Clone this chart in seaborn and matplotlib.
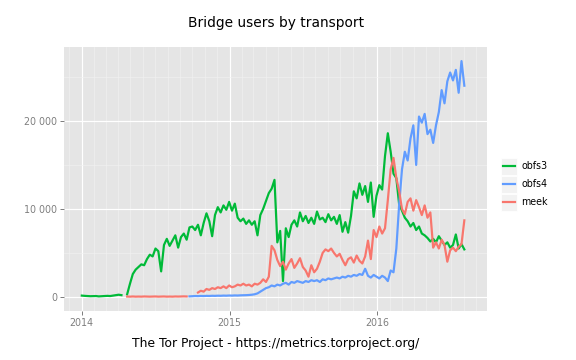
import numpy as np
import pandas as pd
import matplotlib
matplotlib.use("Agg")
import matplotlib.pyplot as plt
import matplotlib.dates as mdates
from matplotlib.lines import Line2D
from matplotlib.patches import Rectangle
from matplotlib.ticker import FuncFormatter
import seaborn as sns

nan = np.nan

# weekly samples starting 2014-01-01
week_dates = pd.date_range("2014-01-01", periods=136, freq="7D")

obfs3 = [150, 120, 100, 80, 90, 100, 60, 80, 100, 120, 100, 150, 200, 250, 200, nan,
         300, 1500, 2600, 3100, 3400, 3700, 3600, 4300, 4800, 4600,
         5500, 5200, 2900, 5900, 6600, 5800, 6400, 7000, 5600, 6800,
         7200, 6500, 7900, 8000, 7600, 8200, 7000, 8400, 9500, 8600,
         6900, 9300, 10200, 9600, 10400, 9900, 10800, 9800, 10600, 9000,
         8600, 8900, 8300, 8700, 8200, 8600, 7000, 9300, 10000, 10900,
         11800, 12300, 13300, 6200, 7500, 1800, 7800, 6800, 8200, 8700,
         8000, 9600, 8600, 9200, 8400, 9000, 8300, 9700, 8800, 9000,
         8500, 9400, 8700, 9100, 8300, 9300, 7400, 8500, 7300, 9200,
         12000, 11200, 12900, 11600, 12600, 10800, 13000, 9100, 11500, 12700,
         12200, 16000, 18600, 16500, 14000, 13500, 10500, 9800, 9000, 8600,
         8000, 8400, 7600, 8000, 7200, 7000, 6700, 6300, 6600, 6200,
         6900, 6400, 5900, 6200, 5600, 5900, 7100, 5500, 6000, 5400]

obfs4 = [nan] * 38 + [
    60, 80, 100, 90, 110, 100, 120, 110, 130, 120, 140, 130, 150, 140, 160,
    150, 170, 160, 180, 190, 200, 220, 250,
    300, 400, 600, 800, 1000, 1100, 1300, 1200, 1400, 1300,
    1500, 1600, 1400, 1700, 1600, 1800, 1700, 1600, 1800, 1700,
    1900, 1800, 1900, 1700, 2000, 1900, 2100, 2000, 2100, 2200,
    2100, 2300, 2200, 2400, 2300, 2500, 2400, 2600, 2500, 3200,
    2400, 2200, 2500, 2300, 2100, 2400, 2200, 1800, 3000, 2800,
    5500, 10500, 14500, 16500, 15500, 18000, 19500, 15000, 20500, 19800,
    20800, 18500, 19000, 17500, 19500, 21000, 23500, 22000, 24500, 25500,
    24600, 25800, 23200, 26800, 24000]

meek = [nan] * 16 + [
    40, 30, 50, 30, 40, 30, 50, 40, 30, 40, 50, 30, 40, 50, 30, 40, 30, 50, 40, 50, 60, 50,
    nan, nan, nan,
    500, 700, 600, 900, 800, 1000, 900, 1100, 1000, 1200,
    1000, 1300, 1100, 1200, 1400, 1300, 1500, 1300, 1400, 1200,
    1500, 1400, 1600, 2000, 1700, 2300, 5800, 5300, 4200, 3500,
    4000, 3100, 3800, 4300, 3300, 3800, 4400, 3400, 3000, 2300,
    3600, 2800, 3200, 4000, 5000, 5400, 5200, 5500, 5000, 4600,
    4900, 4200, 3600, 4300, 4500, 3900, 4700, 4100, 3800, 4600,
    6400, 4300, 7600, 6800, 8000, 7200, 7800, 11000, 14500, 15800,
    13500, 12000, 10000, 9400, 10800, 11200, 9800, 11000, 10200, 9300,
    10400, 9000, 9600, 5600, 6200, 5500, 6500, 5900, 4000, 5300,
    5600, 5200, 5700, 6000, 8700]

transports = ["obfs3", "obfs4", "meek"]
colors = {"obfs3": "#00BA38", "obfs4": "#619CFF", "meek": "#F8766D"}

frames = []
for name, vals in zip(transports, [obfs3, obfs4, meek]):
    d = pd.DataFrame({"date": week_dates, "users": vals, "transport": name})
    d["seg"] = d["users"].isna().cumsum()
    frames.append(d.dropna())
df = pd.concat(frames, ignore_index=True)
df["unit"] = df["transport"] + "_" + df["seg"].astype(str)

W, H = 576, 360
fig = plt.figure(figsize=(W / 72, H / 72), dpi=72)
ax = fig.add_axes([64 / W, 1 - 311 / H, (487 - 64) / W, (311 - 47) / H])
ax.set_facecolor("#E5E5E5")

sns.lineplot(data=df, x="date", y="users", hue="transport", hue_order=transports,
             units="unit", estimator=None, palette=colors, lw=2.2, legend=False, ax=ax)

ax.set_xlim(pd.Timestamp("2013-11-18"), pd.Timestamp("2016-09-28"))
ax.set_ylim(-1600, 28400)
ax.xaxis.set_major_locator(mdates.YearLocator())
ax.xaxis.set_major_formatter(mdates.DateFormatter("%Y"))
ax.xaxis.set_minor_locator(mdates.MonthLocator())
ax.set_yticks([0, 10000, 20000])
ax.set_yticks([5000, 15000, 25000], minor=True)
ax.yaxis.set_major_formatter(FuncFormatter(lambda v, p: f"{int(v):,}".replace(",", " ")))

ax.set_axisbelow(True)
ax.grid(which="major", color="white", lw=1.2)
ax.grid(which="minor", color="#F2F2F2", lw=0.6)
for s in ax.spines.values():
    s.set_visible(False)
ax.tick_params(which="major", length=4, width=1, color="#7F7F7F",
               labelcolor="#7F7F7F", labelsize=9.5, pad=3)
ax.tick_params(which="minor", length=0)
ax.set_xlabel("")
ax.set_ylabel("")

fig.text(276 / W, 1 - 23 / H, "Bridge users by transport", ha="center", va="center",
         fontsize=13.8, color="black")
fig.text(276 / W, 1 - 344 / H, "The Tor Project - https://metrics.torproject.org/",
         ha="center", va="center", fontsize=12.4, color="black")

# legend
for i, name in enumerate(transports):
    yc = 166 + 18 * i
    fig.add_artist(Rectangle((501 / W, 1 - (yc + 8.5) / H), 16 / W, 17 / H,
                             transform=fig.transFigure, facecolor="#F2F2F2",
                             edgecolor="white", lw=0.8))
    fig.add_artist(Line2D([503 / W, 515 / W], [1 - yc / H, 1 - yc / H],
                          transform=fig.transFigure, color=colors[name], lw=2.2))
    fig.text(521 / W, 1 - yc / H, name, ha="left", va="center", fontsize=9.5,
             color="black")

fig.savefig("out.png", dpi=72)
